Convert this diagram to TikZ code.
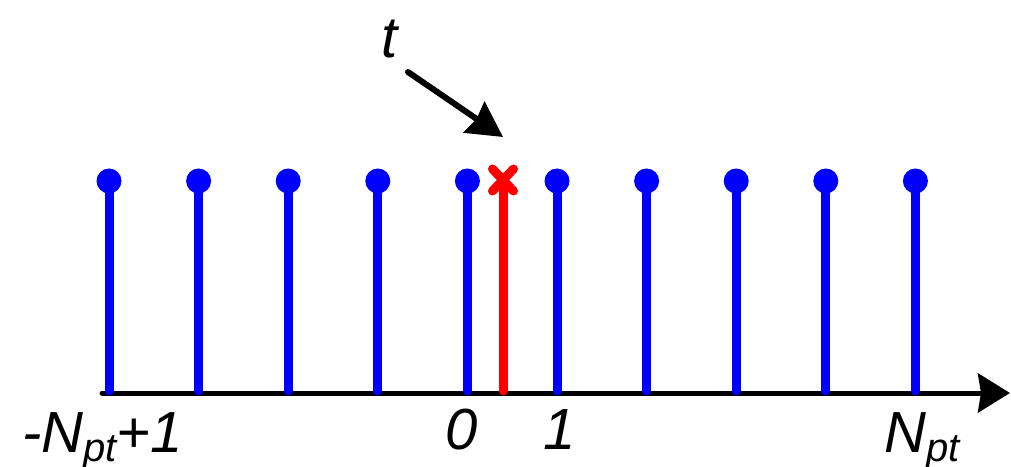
\documentclass[tikz,border=0pt]{standalone}
\usepackage{fontspec}
\setmainfont{Liberation Sans}
\usetikzlibrary{arrows.meta}
\newcommand\lblsub[1]{\raisebox{-9pt}{\fontsize{40}{40}\selectfont #1}}
\tikzset{
  axisline/.style={line width=5pt, line cap=round, -{Stealth[length=32pt,width=39pt,inset=3pt]}},
  stemline/.style={line width=9pt, line cap=round, draw=blue},
  dot/.style={circle, fill=blue, inner sep=0pt, minimum size=25pt},
  redline/.style={line width=9pt, line cap=round, draw=red},
  ptr/.style={line width=6pt, line cap=round, -{Stealth[length=35pt,width=37pt,inset=3pt]}},
  lbl/.style={inner sep=0pt, font=\fontsize{58}{58}\selectfont\itshape}
}
\begin{document}
\begin{tikzpicture}[x=1pt,y=1pt]
\useasboundingbox (0,0) rectangle (1011,466);
% axis
\coordinate (ax0) at (102,73);
\coordinate (ax1) at (1010,73);
\draw[axisline] (ax0) -- (ax1);
% blue stems
\foreach \k in {0,...,9} {
  \pgfmathsetmacro\xx{109+89.6*\k}
  \coordinate (b\k) at (\xx,75);
  \node[dot] (d\k) at (\xx,285) {};
  \draw[stemline] (b\k) -- (d\k.center);
}
% red stem and cross
\coordinate (rb) at (503,75);
\coordinate (rt) at (503,286);
\draw[redline] (rb) -- (rt);
\draw[redline] ([shift={(-10.5,-11)}]rt) -- ([shift={(10.5,11)}]rt);
\draw[redline] ([shift={(-10.5,11)}]rt) -- ([shift={(10.5,-11)}]rt);
% labels
\node[lbl, anchor=base west] (lmin) at (22,14) {-N\lblsub{pt}+1};
\node[lbl, anchor=base] (l0) at (462,17) {0};
\node[lbl, anchor=base] (l1) at (560,17) {1};
\node[lbl, anchor=base west] (lmax) at (884,14) {N\lblsub{pt}};
\node[lbl, anchor=base] (lt) at (390,408) {t};
% pointer
\coordinate (p0) at (408,394);
\coordinate (p1) at (503,329);
\draw[ptr] (p0) -- (p1);
\end{tikzpicture}
\end{document}
